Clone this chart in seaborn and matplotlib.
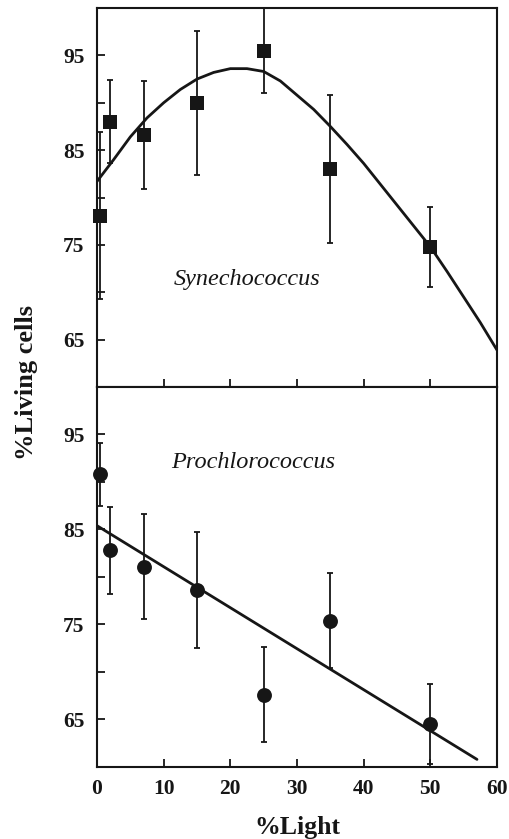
import matplotlib
matplotlib.use("Agg")
import matplotlib.pyplot as plt
import seaborn as sns
import numpy as np
import pandas as pd

# ---- data ----
light = [0.5, 2, 7, 15, 25, 35, 50]

syn_mean = [78.1, 88.0, 86.6, 90.0, 95.5, 83.0, 74.8]
syn_err = [8.8, 4.4, 5.7, 7.6, 4.5, 7.8, 4.2]

pro_mean = [90.8, 82.8, 81.1, 78.6, 67.6, 75.4, 64.5]
pro_err = [3.3, 4.6, 5.5, 6.1, 5.0, 5.0, 4.2]

syn_fit_x = [0, 2.5, 5, 7.5, 10, 12.5, 15, 17.5, 20, 22.5, 25, 27.5, 30, 32.5,
             35, 37.5, 40, 42.5, 45, 47.5, 50, 52.5, 55, 57.5, 60]
syn_fit_y = [81.7, 84.0, 86.4, 88.4, 90.0, 91.4, 92.5, 93.2, 93.6, 93.6, 93.3,
             92.3, 90.8, 89.3, 87.5, 85.6, 83.6, 81.4, 79.2, 77.0, 74.8, 72.2,
             69.5, 66.8, 63.9]

pro_fit_x = [0, 57]
pro_fit_y = [85.4, 60.8]

xticks = [0, 10, 20, 30, 40, 50, 60]
yticks = [65, 70, 75, 80, 85, 90, 95]
ylabels = ["65", "", "75", "", "85", "", "95"]

# ---- style ----
sns.set_theme(style="ticks")
plt.rcParams["font.family"] = ["Liberation Serif", "DejaVu Serif"]
ink = "#161616"

fig = plt.figure(figsize=(5.09, 8.39), dpi=100)
W, H = 509, 839
ax1 = fig.add_axes([97 / W, 1 - 387 / H, 400 / W, 379 / H])
ax2 = fig.add_axes([97 / W, 1 - 767 / H, 400 / W, 380 / H])

syn_df = pd.DataFrame({"x": light, "y": syn_mean})
pro_df = pd.DataFrame({"x": light, "y": pro_mean})
syn_fit = pd.DataFrame({"x": syn_fit_x, "y": syn_fit_y})
pro_fit = pd.DataFrame({"x": pro_fit_x, "y": pro_fit_y})

# top panel
ax1.errorbar(light, syn_mean, yerr=syn_err, fmt="none", ecolor=ink,
             elinewidth=1.3, capsize=2.2, capthick=1.3, zorder=2)
sns.lineplot(data=syn_fit, x="x", y="y", ax=ax1, color=ink, linewidth=2.0,
             sort=False, zorder=3)
sns.scatterplot(data=syn_df, x="x", y="y", ax=ax1, marker="s", s=95,
                color=ink, edgecolor=ink, linewidth=0, zorder=4, clip_on=False)
ax1.text(22.5, 71.3, "Synechococcus", style="italic", fontsize=17.5,
         ha="center", va="center", color=ink)

# bottom panel
ax2.errorbar(light, pro_mean, yerr=pro_err, fmt="none", ecolor=ink,
             elinewidth=1.3, capsize=2.2, capthick=1.3, zorder=2)
sns.lineplot(data=pro_fit, x="x", y="y", ax=ax2, color=ink, linewidth=2.0,
             zorder=3)
sns.scatterplot(data=pro_df, x="x", y="y", ax=ax2, marker="o", s=115,
                color=ink, edgecolor=ink, linewidth=0, zorder=4, clip_on=False)
ax2.text(23.5, 92.1, "Prochlorococcus", style="italic", fontsize=17.5,
         ha="center", va="center", color=ink)

for ax in (ax1, ax2):
    ax.set_xlim(0, 60)
    ax.set_ylim(60, 100)
    ax.set_xticks(xticks)
    ax.set_yticks(yticks)
    ax.set_yticklabels(ylabels)
    ax.set_xlabel("")
    ax.set_ylabel("")
    for s in ax.spines.values():
        s.set_linewidth(1.5)
        s.set_color(ink)
        s.set_visible(True)
    ax.tick_params(axis="both", direction="in", length=6, width=1.3,
                   color=ink, labelcolor=ink)
    ax.tick_params(axis="y", pad=9, labelsize=15.5)
    for lab in ax.get_yticklabels():
        lab.set_fontweight("bold")

ax1.tick_params(axis="x", labelbottom=False)
ax2.tick_params(axis="x", pad=9, labelsize=15.5)
for lab in ax2.get_xticklabels():
    lab.set_fontweight("bold")

ax2.set_xlabel("%Light", fontsize=18.5, fontweight="bold", labelpad=12, color=ink)
fig.text(27 / W, 1 - 382 / H, "%Living cells", rotation=90, fontsize=19,
         fontweight="bold", ha="center", va="center", color=ink)

fig.savefig("out.png", dpi=100)
